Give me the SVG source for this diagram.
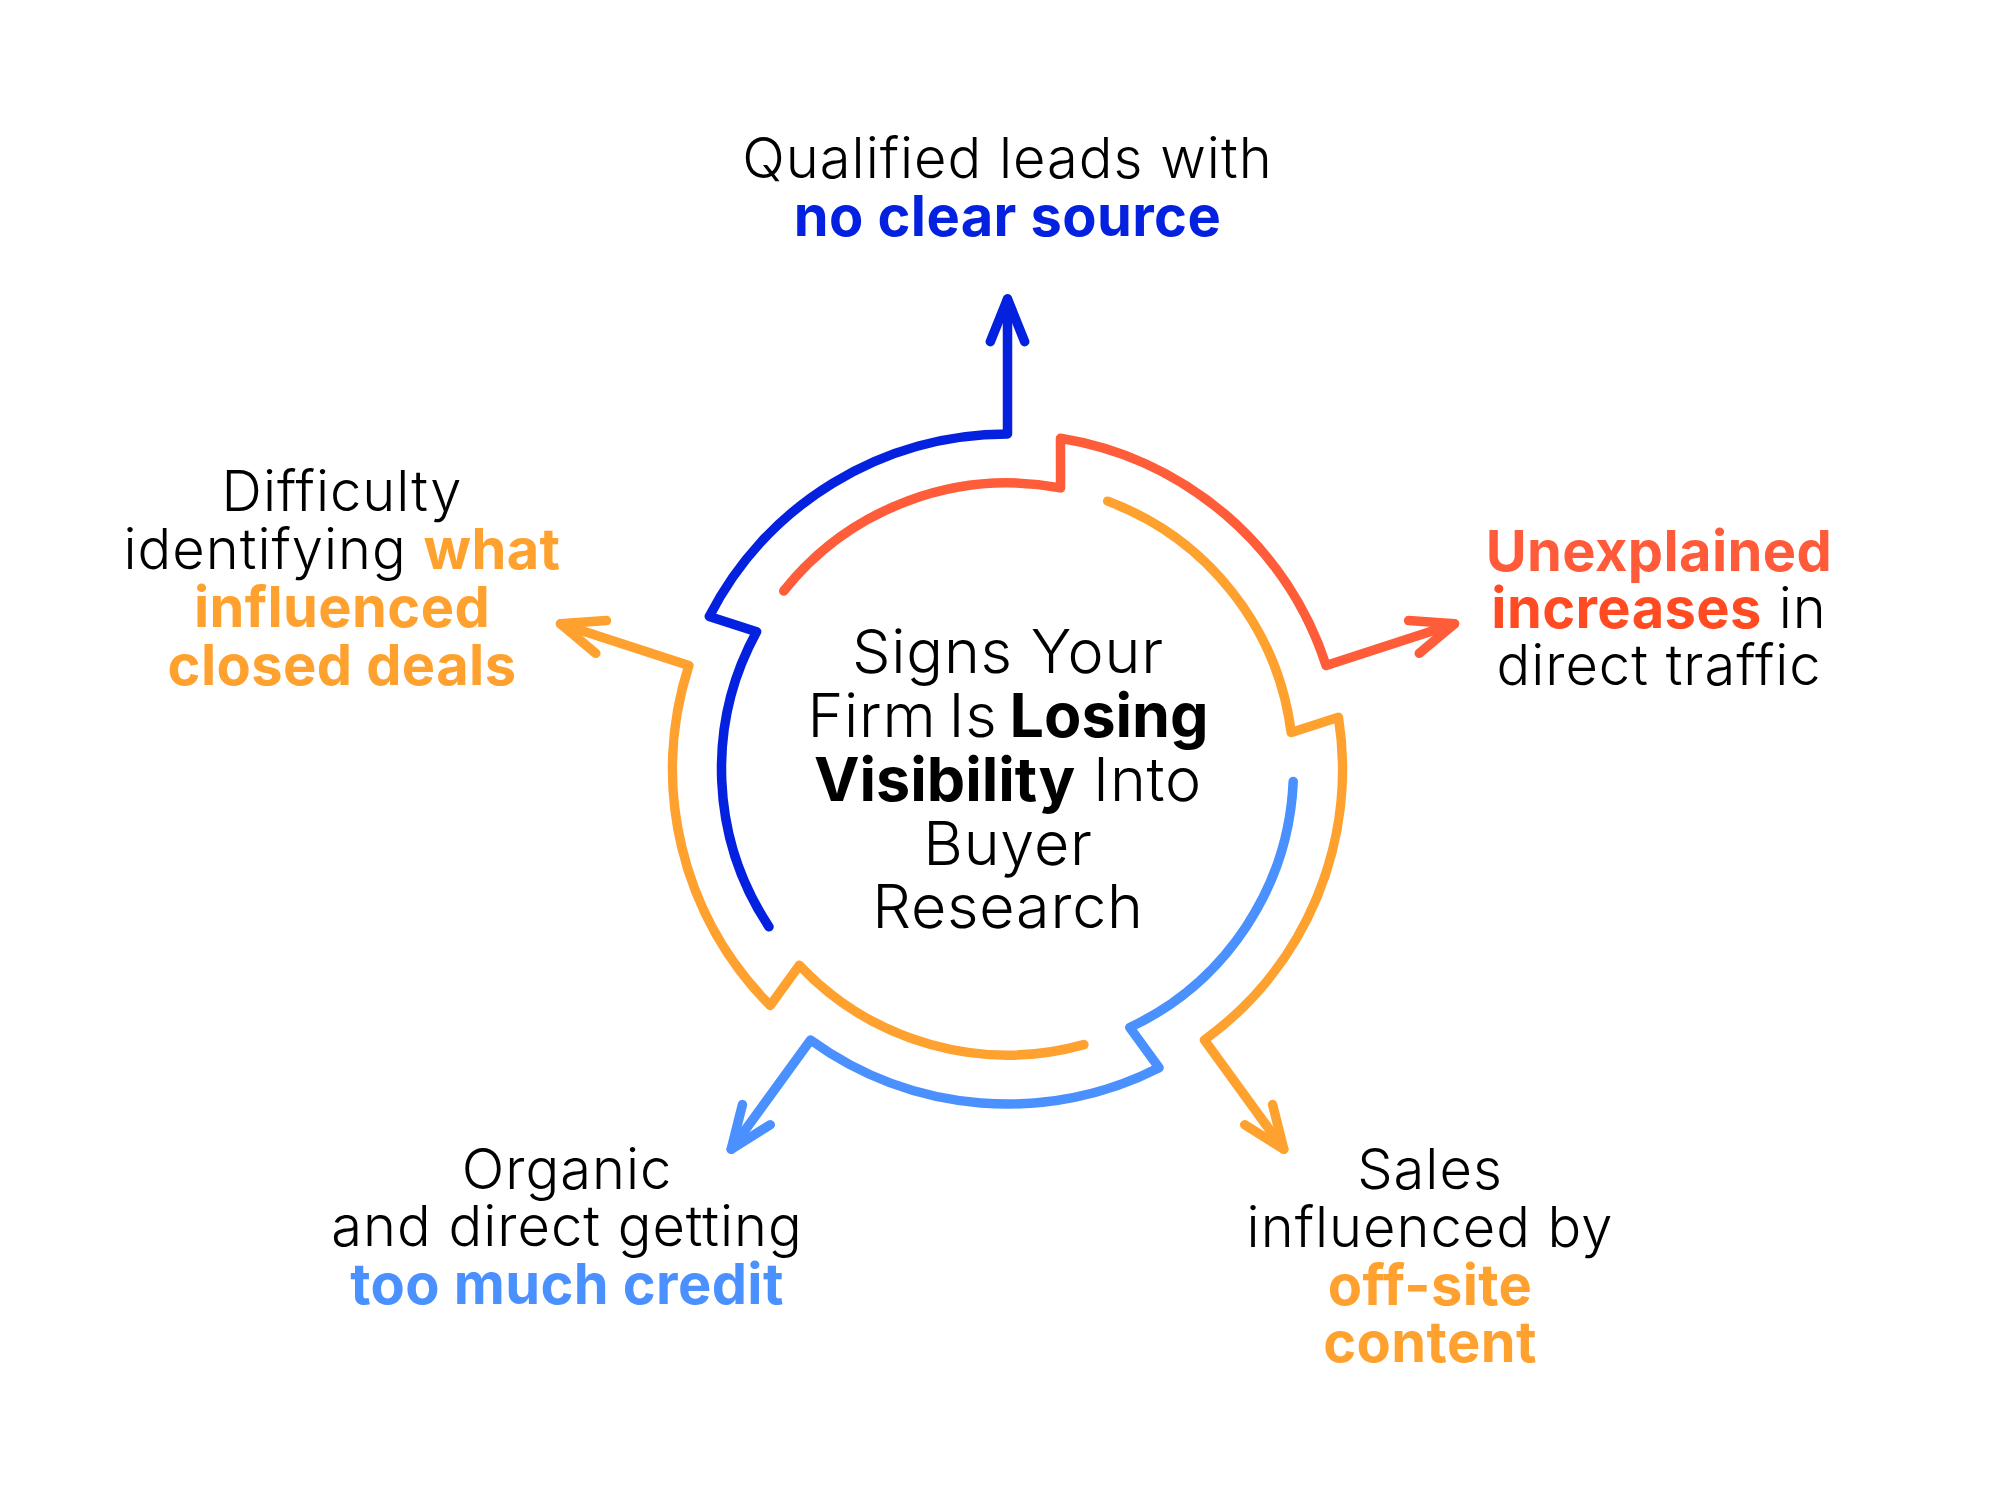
<svg xmlns="http://www.w3.org/2000/svg" width="2000" height="1500" viewBox="0 0 2000 1500">
  <defs>
    <style>
      .conn { fill: none; stroke-width: 9.5; stroke-linecap: round; stroke-linejoin: round; }
      .lbl { font-family: Inter, "Noto Sans", "Liberation Sans", sans-serif; font-size: 56px; font-weight: 300; letter-spacing: 1px; fill: #000; text-anchor: middle; }
      .ctr { font-family: Inter, "Noto Sans", "Liberation Sans", sans-serif; font-size: 61px; font-weight: 300; letter-spacing: 0.8px; fill: #000; text-anchor: middle; }
      .b { font-weight: 700; letter-spacing: 0.4px; }
      .ctr .b { letter-spacing: 0px; }
      .blue { fill: #0521E0; }
      .red { fill: #FF5A3A; }
      .red2 { fill: #FF4A22; }
      .orange { fill: #FFA12E; }
      .lblue { fill: #4A90FF; }
    </style>
    <g id="seg">
      <path d="M 769.0 926.8 A 286 286 0 0 1 756.6 631.7 L 709.3 616.4 A 335 335 0 0 1 1007.5 434 L 1007.5 299"/>
      <path d="M 990.3 341.7 L 1007.5 299 L 1024.7 341.7"/>
    </g>
  </defs>
  <rect width="2000" height="1500" fill="#fff"/>

  <g id="connectors" class="conn">
    <use href="#seg" stroke="#0521E0"/>
    <use href="#seg" stroke="#FF5C3A" transform="rotate(72 1007.5 769)"/>
    <use href="#seg" stroke="#FFA12E" transform="rotate(144 1007.5 769)"/>
    <use href="#seg" stroke="#4A90FF" transform="rotate(216 1007.5 769)"/>
    <use href="#seg" stroke="#FFA12E" transform="rotate(288 1007.5 769)"/>
  </g>

  <g id="center">
    <text class="ctr" x="1008" y="673">Signs Your</text>
    <text class="ctr" x="1008" y="737" word-spacing="-6">Firm Is <tspan class="b">Losing</tspan></text>
    <text class="ctr" x="1008" y="801"><tspan class="b">Visibility</tspan> Into</text>
    <text class="ctr" x="1008" y="865">Buyer</text>
    <text class="ctr" x="1008" y="928">Research</text>
  </g>

  <g id="node-top">
    <text class="lbl" x="1007.5" y="178">Qualified leads with</text>
    <text class="lbl b blue" x="1007.5" y="236">no clear source</text>
  </g>

  <g id="node-right">
    <text class="lbl b red" x="1659" y="571">Unexplained</text>
    <text class="lbl" x="1659" y="628"><tspan class="b red2">increases</tspan> in</text>
    <text class="lbl" x="1659" y="685">direct traffic</text>
  </g>

  <g id="node-bottom-right">
    <text class="lbl" x="1430" y="1189">Sales</text>
    <text class="lbl" x="1430" y="1247">influenced by</text>
    <text class="lbl b orange" x="1430" y="1305">off-site</text>
    <text class="lbl b orange" x="1430" y="1362">content</text>
  </g>

  <g id="node-bottom-left">
    <text class="lbl" x="567" y="1189">Organic</text>
    <text class="lbl" x="567" y="1246">and direct getting</text>
    <text class="lbl b lblue" x="567" y="1304">too much credit</text>
  </g>

  <g id="node-left">
    <text class="lbl" x="342" y="511">Difficulty</text>
    <text class="lbl" x="342" y="569">identifying <tspan class="b orange">what</tspan></text>
    <text class="lbl b orange" x="342" y="627">influenced</text>
    <text class="lbl b orange" x="342" y="685">closed deals</text>
  </g>
</svg>
